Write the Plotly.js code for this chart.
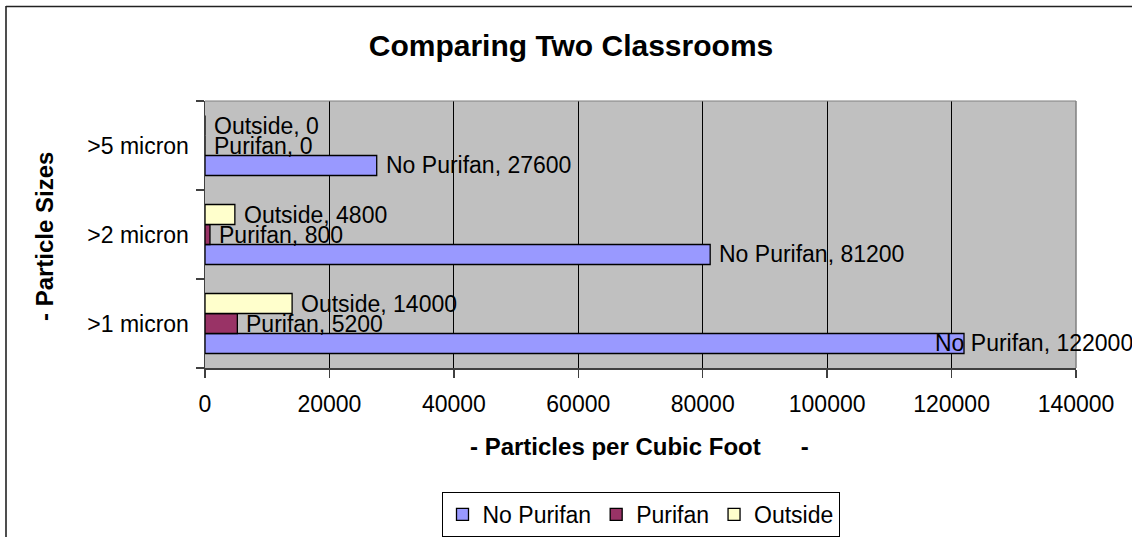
<!DOCTYPE html>
<html>
<head>
<meta charset="utf-8">
<script src="https://cdn.plot.ly/plotly-3.0.1.min.js"></script>
<style>
  html, body { margin: 0; padding: 0; background: #fff; }
  #chart { width: 1132px; height: 537px; }
</style>
</head>
<body>
<div id="chart"></div>
<script>
// ---- data ----
const categories = ['>1 micron', '>2 micron', '>5 micron'];
const seriesNames = ['No Purifan', 'Purifan', 'Outside'];
const noPurifan = [122000, 81200, 27600];
const purifan = [5200, 800, 0];
const outside = [14000, 4800, 0];
const xTickVals = [0, 20000, 40000, 60000, 80000, 100000, 120000, 140000];
const chartTitle = 'Comparing Two Classrooms';
const xTitle = '- Particles per Cubic Foot\u00a0\u00a0\u00a0\u00a0\u00a0 -';
const yTitle = '- Particle Sizes';

// ---- style ----
const FONT = '"Liberation Sans", Arial, Helvetica, sans-serif';
const W = 1132, H = 537;
const M = { l: 205, r: 56, t: 101, b: 169 };
const plotW = W - M.l - M.r, plotH = H - M.t - M.b;
const xMax = 140000;
const colors = ['#9999FF', '#993366', '#FFFFCC'];
const allSeries = [noPurifan, purifan, outside];
const labelFontSize = 23;
const barGap = 0.326;

const traces = allSeries.map((vals, i) => ({
  type: 'bar',
  orientation: 'h',
  name: seriesNames[i],
  y: categories,
  x: vals,
  marker: { color: colors[i], line: { color: '#000000', width: 1.3 } },
  hoverinfo: 'x+name'
}));

// measure label widths to keep them inside the chart
const cv = document.createElement('canvas').getContext('2d');
cv.font = labelFontSize + 'px ' + FONT;

const barStep = plotH / categories.length * (1 - barGap) / seriesNames.length;
const annotations = [];
allSeries.forEach((vals, i) => {
  vals.forEach((v, j) => {
    const txt = seriesNames[i] + ', ' + v;
    const w = cv.measureText(txt).width;
    const endPx = M.l + v / xMax * plotW;
    let left = endPx + 7;
    if (left + w > W - 1) left = W - 1 - w;
    annotations.push({
      x: v, y: categories[j], xref: 'x', yref: 'y',
      text: txt, showarrow: false,
      xanchor: 'left', yanchor: 'middle',
      xshift: left - endPx,
      yshift: (i - 1) * barStep,
      font: { family: FONT, size: labelFontSize, color: '#000' }
    });
  });
});

const px2x = p => (p - M.l) / plotW;
const px2y = p => (H - M.b - p) / plotH;

annotations.push({
  xref: 'paper', yref: 'paper', x: px2x(639), y: px2y(446),
  text: '<b>' + xTitle + '</b>', showarrow: false, xanchor: 'center', yanchor: 'middle',
  font: { family: FONT, size: 24, color: '#000' }
});
annotations.push({
  xref: 'paper', yref: 'paper', x: px2x(44), y: px2y(237),
  text: '<b>' + yTitle + '</b>', showarrow: false, textangle: -90,
  xanchor: 'center', yanchor: 'middle',
  font: { family: FONT, size: 24, color: '#000' }
});

const layout = {
  width: W, height: H,
  margin: M,
  paper_bgcolor: '#ffffff',
  plot_bgcolor: '#C0C0C0',
  font: { family: FONT, size: 23, color: '#000' },
  title: {
    text: '<b>' + chartTitle + '</b>',
    font: { family: FONT, size: 30, color: '#000' },
    xref: 'container', yref: 'container',
    x: 571 / W, y: 1 - 45 / H, xanchor: 'center', yanchor: 'middle'
  },
  barmode: 'group',
  bargap: barGap,
  bargroupgap: 0,
  showlegend: true,
  legend: {
    orientation: 'h',
    xref: 'paper', x: 0.5, xanchor: 'center',
    yref: 'container', y: 1 - 492 / H, yanchor: 'top',
    bgcolor: '#ffffff', bordercolor: '#000000', borderwidth: 1,
    font: { family: FONT, size: 23, color: '#000' },
    itemwidth: 30,
    traceorder: 'normal'
  },
  xaxis: {
    range: [0, xMax],
    tickvals: xTickVals,
    ticktext: xTickVals.map(String),
    showgrid: true, gridcolor: '#000000', gridwidth: 1,
    zeroline: false,
    showline: true, linecolor: '#404040', linewidth: 1.5,
    ticks: 'outside', ticklen: 8, tickcolor: '#404040', tickwidth: 1.5,
    ticklabelstandoff: 7,
    tickfont: { family: FONT, size: 23, color: '#000' },
    automargin: false,
    fixedrange: true
  },
  yaxis: {
    type: 'category',
    categoryorder: 'array', categoryarray: categories,
    showgrid: false, zeroline: false,
    showline: true, linecolor: '#404040', linewidth: 1.5,
    ticks: 'outside', ticklen: 8, tickcolor: '#404040', tickwidth: 1.5,
    tickson: 'boundaries',
    ticklabelstandoff: 10,
    tickfont: { family: FONT, size: 23, color: '#000' },
    automargin: false,
    fixedrange: true
  },
  annotations: annotations,
  shapes: [
    // plot area border (top/right)
    { type: 'line', xref: 'paper', yref: 'paper', x0: 0, x1: 1, y0: 1, y1: 1,
      line: { color: '#808080', width: 1.2 } },
    { type: 'line', xref: 'paper', yref: 'paper', x0: 1, x1: 1, y0: 0, y1: 1,
      line: { color: '#808080', width: 1.5 } },
    // chart frame (left/top)
    { type: 'line', xref: 'paper', yref: 'paper', x0: px2x(6), x1: px2x(6), y0: px2y(6), y1: px2y(H + 10),
      line: { color: '#222222', width: 1.6 } },
    { type: 'line', xref: 'paper', yref: 'paper', x0: px2x(6), x1: px2x(W + 20), y0: px2y(6.5), y1: px2y(6.5),
      line: { color: '#222222', width: 1.6 } }
  ]
};

Plotly.newPlot('chart', traces, layout, { displayModeBar: false, staticPlot: true });
</script>
</body>
</html>
